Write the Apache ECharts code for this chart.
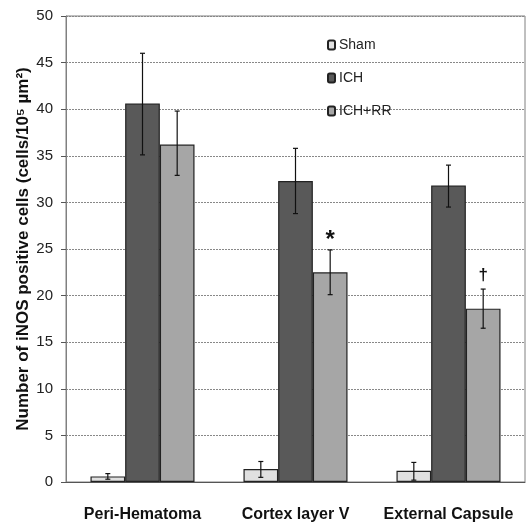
<!DOCTYPE html>
<html><head><meta charset="utf-8">
<script src="https://cdn.jsdelivr.net/npm/echarts@6/dist/echarts.min.js"></script>
<style>html,body{margin:0;padding:0;background:#fff}#c{width:526px;height:524px}</style>
</head><body><div id="c"></div>
<script>
const categories = ['Peri-Hematoma', 'Cortex layer V', 'External Capsule'];
const seriesNames = ['Sham', 'ICH', 'ICH+RR'];
const shamVals = [0.6, 1.4, 1.2];
const ichVals = [40.6, 32.3, 31.8];
const rrVals = [36.2, 22.5, 18.6];
const shamErr = [[0.3, 0.9], [0.5, 2.2], [0.2, 2.1]];
const ichErr = [[35.1, 46.0], [28.8, 35.8], [29.5, 34.0]];
const rrErr = [[32.9, 39.8], [20.1, 24.9], [16.5, 20.7]];
const rrMarks = ['', '*', '†'];
const yTicks = [0, 5, 10, 15, 20, 25, 30, 35, 40, 45, 50];
const colors = ['#e0e0e0', '#595959', '#a6a6a6'];
const GAP = 0.32;
const FONT = '"Liberation Sans", Arial';

const chart = echarts.init(document.getElementById('c'), null, {renderer: 'canvas'});

function errSeries(idx, errs, marks) {
  return {
    type: 'custom',
    name: seriesNames[idx] + ' err',
    silent: true,
    z: 5,
    data: errs.map((e, i) => [i, e[0], e[1], marks ? marks[i] : '']),
    renderItem: function (params, api) {
      const band = api.size([1, 0])[0];
      const bw = band * (1 - GAP) / 3;
      const off = (idx - 1) * bw;
      const lo = api.coord([api.value(0), api.value(1)]);
      const hi = api.coord([api.value(0), api.value(2)]);
      const x = lo[0] + off;
      const cap = 2.5;
      const st = {stroke: '#111', lineWidth: 1.2};
      const children = [
        {type: 'line', shape: {x1: x, y1: lo[1], x2: x, y2: hi[1]}, style: st},
        {type: 'line', shape: {x1: x - cap, y1: lo[1], x2: x + cap, y2: lo[1]}, style: st},
        {type: 'line', shape: {x1: x - cap, y1: hi[1], x2: x + cap, y2: hi[1]}, style: st}
      ];
      const m = api.value(3);
      if (m) {
        children.push({type: 'text', style: {text: m, x: x, y: hi[1] - (m === '*' ? 10 : 14), align: 'center', verticalAlign: 'middle',
          font: m === '*' ? 'bold 24px "Liberation Sans", Arial' : 'bold 17px "Liberation Sans", Arial', fill: '#111'}});
      }
      return {type: 'group', children: children};
    }
  };
}

function barSeries(idx, vals) {
  return {
    type: 'bar', name: seriesNames[idx], data: vals,
    barGap: '0%', barCategoryGap: (GAP * 100) + '%',
    itemStyle: {color: colors[idx], borderColor: '#222', borderWidth: 1.2}
  };
}

chart.setOption({
  animation: false,
  backgroundColor: '#fff',
  grid: {left: 66, right: 1, top: 16, bottom: 42, show: true, borderColor: '#808080', borderWidth: 1},
  legend: {
    data: seriesNames,
    orient: 'vertical',
    left: 327, top: 38, padding: 0,
    itemWidth: 7, itemHeight: 9, itemGap: 19,
    icon: 'roundRect',
    textStyle: {fontFamily: FONT, fontSize: 14, color: '#222', padding: [0, 0, 0, -1]}
  },
  xAxis: {
    type: 'category', data: categories,
    axisLine: {lineStyle: {color: '#555', width: 1}},
    axisTick: {show: false},
    axisLabel: {margin: 25, interval: 0, fontFamily: FONT, fontWeight: 'bold', fontSize: 16, color: '#111'}
  },
  yAxis: {
    type: 'value', min: 0, max: 50, interval: 5,
    name: 'Number of iNOS positive cells (cells/10⁵ µm²)',
    nameLocation: 'middle', nameGap: 34, nameMoveOverlap: false,
    nameTextStyle: {fontFamily: FONT, fontWeight: 'bold', fontSize: 17, color: '#111'},
    axisLine: {show: true, lineStyle: {color: '#808080'}},
    axisTick: {show: true, length: 5, inside: false, lineStyle: {color: '#555'}},
    axisLabel: {margin: 13, fontFamily: FONT, fontSize: 15, color: '#222',
      formatter: v => yTicks.includes(v) ? String(v) : ''},
    splitLine: {lineStyle: {color: '#888', type: [2, 1], width: 1}}
  },
  series: [
    barSeries(0, shamVals), barSeries(1, ichVals), barSeries(2, rrVals),
    errSeries(0, shamErr), errSeries(1, ichErr), errSeries(2, rrErr, rrMarks)
  ]
});
</script></body></html>
